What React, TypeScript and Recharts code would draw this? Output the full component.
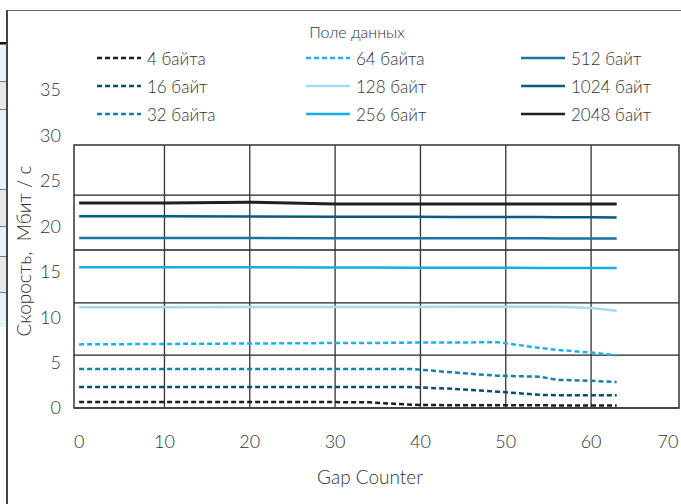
import React from 'react';
import { LineChart, Line, XAxis, YAxis, ReferenceLine, ReferenceArea, Legend } from 'recharts';

// Gap Counter sample points
const gapCounter = [0, 10, 20, 30, 34, 39, 44, 49, 54, 56, 60, 63];

// Throughput, Mbit/s
const v4 = [0.65, 0.65, 0.65, 0.65, 0.62, 0.35, 0.3, 0.3, 0.3, 0.28, 0.28, 0.28];
const v16 = [2.3, 2.3, 2.3, 2.3, 2.3, 2.3, 2.1, 1.8, 1.45, 1.4, 1.4, 1.4];
const v32 = [4.3, 4.3, 4.3, 4.3, 4.3, 4.3, 3.9, 3.55, 3.45, 3.1, 3.0, 2.85];
const v64 = [7.0, 7.05, 7.1, 7.15, 7.15, 7.2, 7.2, 7.25, 6.6, 6.4, 6.1, 5.8];
const v128 = [11.1, 11.1, 11.12, 11.12, 11.12, 11.13, 11.14, 11.15, 11.15, 11.15, 11.0, 10.7];
const v256 = [15.5, 15.5, 15.48, 15.47, 15.46, 15.45, 15.44, 15.43, 15.42, 15.42, 15.41, 15.4];
const v512 = [18.7, 18.7, 18.7, 18.69, 18.69, 18.68, 18.68, 18.67, 18.67, 18.66, 18.66, 18.65];
const v1024 = [21.1, 21.1, 21.08, 21.06, 21.05, 21.04, 21.03, 21.02, 21.01, 21.0, 21.0, 20.98];
const v2048 = [22.55, 22.55, 22.65, 22.45, 22.45, 22.45, 22.45, 22.45, 22.45, 22.45, 22.45, 22.45];

const seriesNames = ['4 байта', '16 байт', '32 байта', '64 байта', '128 байт', '256 байт', '512 байт', '1024 байт', '2048 байт'];
const seriesValues = [v4, v16, v32, v64, v128, v256, v512, v1024, v2048];
const seriesColors = ['#1e1e1e', '#0b4c6b', '#1580ad', '#1bb2ec', '#a5daf5', '#12aee8', '#1576a3', '#0b5a7f', '#231f20'];
const seriesDashed = [true, true, true, true, false, false, false, false, false];

const xTicks = [0, 10, 20, 30, 40, 50, 60, 70];
const yTicks = [0, 5, 10, 15, 20, 25, 30, 35];
const gridX = [10, 20, 30, 40, 50, 60];
const gridY = [5.83, 11.56, 17.39, 23.44];
const boxTop = 28.94;
const xDomain: [number, number] = [-0.6, 70.3];

const legendTitle = 'Поле данных';
const xTitle = 'Gap Counter';
const yTitle = 'Скорость,  Мбит / с';

const FONT = 'Lato, "DejaVu Sans", sans-serif';

const data = gapCounter.map((g, i) => {
  const row: Record<string, number> = { g };
  seriesNames.forEach((n, k) => {
    row[n] = seriesValues[k][i];
  });
  return row;
});

const legendCols = [97, 306, 521];
const legendRows = [59, 87, 115];

const LegendContent = () => (
  <div style={{ position: 'relative', width: 681, height: 130, fontFamily: FONT, fontWeight: 300, color: '#333' }}>
    <div style={{ position: 'absolute', left: 0, width: 714, top: 22, textAlign: 'center', fontSize: 16 }}>{legendTitle}</div>
    {seriesNames.map((n, k) => {
      const col = Math.floor(k / 3);
      const row = k % 3;
      return (
        <div
          key={n}
          style={{
            position: 'absolute',
            left: legendCols[col],
            top: legendRows[row] - 13,
            height: 24,
            display: 'flex',
            alignItems: 'center',
            whiteSpace: 'nowrap',
            fontSize: 17,
          }}
        >
          <svg width={46} height={6} style={{ marginRight: 4 }}>
            <line
              x1={0}
              y1={3}
              x2={44}
              y2={3}
              stroke={seriesColors[k]}
              strokeWidth={2.5}
              strokeDasharray={seriesDashed[k] ? '5 3' : undefined}
            />
          </svg>
          <span>{n}</span>
        </div>
      );
    })}
  </div>
);

const XTick = (props: any) => {
  const { x, y, payload } = props;
  const tx = Math.min(x, 668);
  return (
    <text x={tx} y={y} dy="0.71em" textAnchor="middle" fontFamily={FONT} fontWeight={300} fontSize={18} fill="#333">
      {payload.value}
    </text>
  );
};

const stripCells = [
  { top: 44, h: 37, c: '#e4f3fc' },
  { top: 81, h: 28, c: '#e8e8e8' },
  { top: 109, h: 80, c: '#e4f3fc' },
  { top: 189, h: 37, c: '#e8e8e8' },
  { top: 226, h: 30, c: '#e4f3fc' },
  { top: 256, h: 36, c: '#e8e8e8' },
  { top: 292, h: 34, c: '#e4f3fc' },
];

export default function App() {
  return (
    <div style={{ position: 'absolute', left: 0, top: 0, width: 681, height: 504, background: '#fff', overflow: 'hidden' }}>
      {stripCells.map((s, i) => (
        <div key={i} style={{ position: 'absolute', left: 0, top: s.top, width: 6, height: s.h, background: s.c, borderTop: '1px solid #777' }} />
      ))}
      <div style={{ position: 'absolute', left: 0, top: 42, width: 6, height: 2, background: '#111' }} />
      <div style={{ position: 'absolute', left: 6, top: 10, width: 675, height: 1, background: '#666' }} />
      <div style={{ position: 'absolute', left: 6, top: 10, width: 1.5, height: 494, background: '#444' }} />

      <div style={{ position: 'absolute', left: 0, top: 0 }}>
        <LineChart width={681} height={504} data={data} margin={{ top: 90, right: 2, bottom: 16, left: 14 }}>
          <XAxis
            dataKey="g"
            type="number"
            domain={xDomain}
            allowDataOverflow
            ticks={xTicks}
            axisLine={false}
            tickLine={false}
            tickSize={0}
            tickMargin={27}
            height={80}
            interval={0}
            tick={<XTick />}
          />
          <YAxis
            type="number"
            domain={[0, 35]}
            ticks={yTicks}
            axisLine={false}
            tickLine={false}
            tickSize={0}
            tickMargin={13}
            width={60}
            interval={0}
            tick={{ fontFamily: FONT, fontWeight: 300, fontSize: 18, fill: '#333' }}
          />
          {gridY.map((v) => (
            <ReferenceLine key={'gy' + v} y={v} stroke="#222" strokeWidth={1.3} ifOverflow="visible" />
          ))}
          {gridX.map((v) => (
            <ReferenceLine
              key={'gx' + v}
              segment={[{ x: v, y: 0 }, { x: v, y: boxTop }]}
              stroke="#333"
              strokeWidth={1.3}
              ifOverflow="visible"
            />
          ))}
          <ReferenceArea
            x1={xDomain[0]}
            x2={xDomain[1]}
            y1={0}
            y2={boxTop}
            fill="none"
            fillOpacity={0}
            stroke="#333"
            strokeWidth={1.5}
            ifOverflow="visible"
          />
          <ReferenceLine y={0} stroke="#444" strokeWidth={2} ifOverflow="visible" />
          {seriesNames.map((n, k) => (
            <Line
              key={n}
              type="linear"
              dataKey={n}
              stroke={seriesColors[k]}
              strokeWidth={k === 8 ? 3 : 2.5}
              strokeDasharray={seriesDashed[k] ? '5 3' : undefined}
              dot={false}
              activeDot={false}
              isAnimationActive={false}
            />
          ))}
          <Legend
            layout="vertical"
            align="center"
            verticalAlign="middle"
            content={LegendContent}
            wrapperStyle={{ position: 'absolute', left: 0, top: 0, width: 681, height: 130 }}
          />
        </LineChart>
      </div>

      <div
        style={{
          position: 'absolute',
          left: 24 - 110,
          top: 251 - 12,
          width: 220,
          height: 24,
          lineHeight: '24px',
          textAlign: 'center',
          transform: 'rotate(-90deg)',
          fontFamily: FONT,
          fontWeight: 300,
          fontSize: 19,
          color: '#333',
          whiteSpace: 'pre',
        }}
      >
        {yTitle}
      </div>
      <div
        style={{
          position: 'absolute',
          left: 0,
          width: 740,
          top: 465,
          lineHeight: '24px',
          textAlign: 'center',
          fontFamily: FONT,
          fontWeight: 300,
          fontSize: 19,
          color: '#333',
        }}
      >
        {xTitle}
      </div>
    </div>
  );
}
